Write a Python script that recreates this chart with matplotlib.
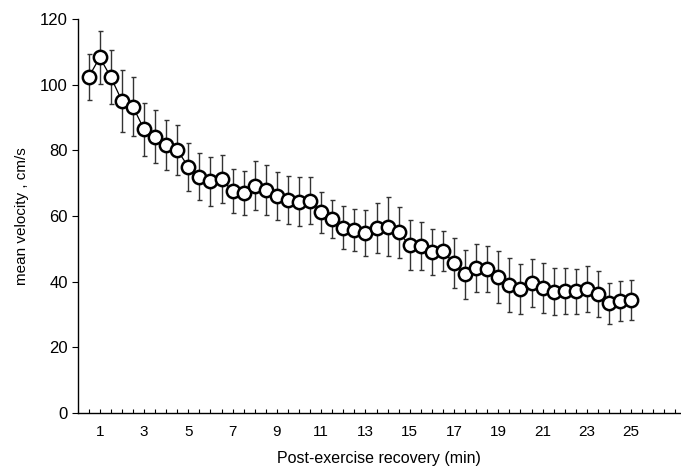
import numpy as np
import matplotlib
matplotlib.use("Agg")
import matplotlib.pyplot as plt

plt.rcParams['font.family'] = ['Liberation Sans', 'DejaVu Sans']

# recovery time (min), sampled every 30 s
minutes = np.arange(1, 51) * 0.5

mean_velocity = [
    102.3, 108.3, 102.3, 95.1, 93.3, 86.4, 84.2, 81.7, 80.1, 75.0,
    72.0, 70.6, 71.2, 67.6, 66.9, 69.2, 67.9, 66.1, 64.9, 64.4,
    64.7, 61.1, 59.1, 56.4, 55.7, 54.9, 56.4, 56.7, 55.0, 51.1,
    50.9, 49.0, 49.3, 45.6, 42.2, 44.3, 43.8, 41.3, 39.0, 37.8,
    39.5, 38.0, 37.0, 37.3, 37.1, 37.7, 36.2, 33.4, 34.2, 34.4,
]

velocity_err = [
    7.0, 8.0, 8.2, 9.5, 9.0, 8.0, 8.0, 7.6, 7.6, 7.3,
    7.1, 7.5, 7.3, 6.6, 6.7, 7.4, 7.5, 7.4, 7.2, 7.4,
    7.2, 6.3, 5.7, 6.6, 6.3, 7.0, 7.6, 9.0, 7.7, 7.6,
    7.4, 7.0, 6.1, 7.6, 7.4, 7.3, 7.0, 7.9, 8.2, 7.6,
    7.3, 7.6, 7.3, 7.0, 6.8, 7.0, 7.0, 6.2, 6.1, 6.2,
]

fig = plt.figure(figsize=(6.81, 4.66), dpi=100)
ax = fig.add_axes([77.6 / 681, 1 - 413 / 466, 1 - 77.6 / 681, (413 - 19) / 466])

ax.errorbar(minutes, mean_velocity, yerr=velocity_err, fmt='none',
            ecolor='#333333', elinewidth=1.0, capsize=1.8, capthick=1.0, zorder=1)
ax.plot(minutes, mean_velocity, color='black', lw=0.9, marker='o',
        markersize=9.6, markerfacecolor='white', markeredgecolor='black',
        markeredgewidth=1.8, zorder=2)

ax.set_xlim(0, 27.25)
ax.set_ylim(0, 120)

ax.spines['top'].set_visible(False)
ax.spines['right'].set_visible(False)
ax.spines['left'].set_linewidth(1.0)
ax.spines['bottom'].set_linewidth(1.0)

xt = np.arange(0.5, 27.01, 0.5)
ax.set_xticks(xt)
ax.set_xticklabels([str(int(v)) if (v == int(v) and int(v) % 2 == 1 and v <= 25) else ''
                    for v in xt])
ax.tick_params(axis='x', direction='in', length=3, width=0.8, pad=9, labelsize=11)

ax.set_yticks(np.arange(0, 121, 20))
ax.tick_params(axis='y', direction='out', length=4, width=0.8, pad=3, labelsize=12)

ax.set_xlabel('Post-exercise recovery (min)', fontsize=11.5, labelpad=8)
ax.set_ylabel('mean velocity , cm/s', fontsize=11, labelpad=8)

fig.savefig('out.png', dpi=100)
